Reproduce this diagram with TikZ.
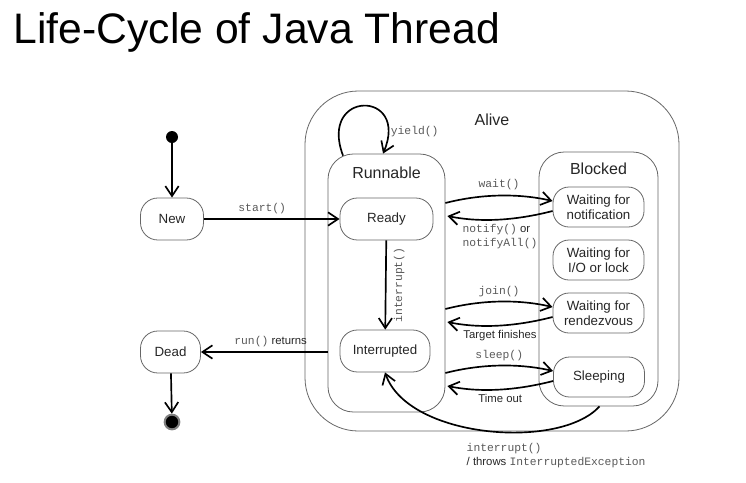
\documentclass[tikz,border=0pt]{standalone}
\usepackage{fontspec}
\setmainfont{Liberation Sans}
\setmonofont{Liberation Mono}
\usetikzlibrary{arrows.meta,calc}
\newcommand\colorStateline{black!60}
\newcommand\colorCode{black!65}
\newcommand\colorLabel{black!85}
\newcommand\mcode[1]{{\color{\colorCode}\ttfamily #1}}

\tikzset{
	state/.style={draw=\colorStateline, line width=0.6pt, rounded corners=13pt, minimum height=31.5pt, align=center, text=\colorLabel, font=\fontsize{10}{11.5}\selectfont, inner sep=2pt},
	waiting/.style={state, minimum width=68.25pt, minimum height=30pt, rounded corners=12pt},
	container/.style={draw=\colorStateline, line width=0.6pt, inner sep=0pt},
	boxlabel/.style={font=\fontsize{12}{14}\selectfont, text=\colorLabel},
	trans/.style={->, line width=1.25pt},
	note/.style={font=\fontsize{8.5}{10.5}\selectfont, text=\colorLabel},
}

\begin{document}
\begin{tikzpicture}[x=0.75pt, y=-0.75pt, >={Straight Barb[length=7.5pt,width=10pt]}]
	\useasboundingbox (0,0) rectangle (746,482);
	
	\node[anchor=base west, inner sep=0pt, font=\fontsize{32}{38}\selectfont] (title) at (13.5,43) {Life-Cycle of Java Thread};
	
	% containers
	\node[container, minimum width=280.5pt, minimum height=255pt, rounded corners=40pt] (alive) at (492,261) {};
	\node[container, minimum width=87.75pt, minimum height=193.5pt, rounded corners=19pt] (runnable) at (386.5,283) {};
	\node[container, minimum width=89.25pt, minimum height=190.5pt, rounded corners=19pt] (blocked) at (598.5,279) {};
	\node[boxlabel, below=14pt] (alivelabel) at (alive.north) {Alive};
	\node[boxlabel, below=6.4pt] (runnablelabel) at (runnable.north) {Runnable};
	\node[boxlabel, below=4.9pt] (blockedlabel) at (blocked.north) {Blocked};
	
	% states
	\node[circle, fill=black, inner sep=0pt, minimum size=9pt] (init) at (172,137) {};
	\node[state, minimum width=47.25pt] (new) at (172,219) {New};
	\node[state, minimum width=69.75pt] (ready) at (386.5,219) {Ready};
	\node[state, minimum width=67.5pt] (interrupted) at (385,351) {Interrupted};
	\node[state, minimum width=45pt] (dead) at (170.5,352) {Dead};
	\node[circle, fill=black, draw=black!50, line width=1.5pt, inner sep=0pt, minimum size=11pt] (final) at (172,422) {};
	\node[waiting] (notif) at (598.5,207) {Waiting for\\notification};
	\node[waiting] (iolock) at (598.5,260) {Waiting for\\I/O or lock};
	\node[waiting] (rendez) at (598.5,313) {Waiting for\\rendezvous};
	\node[waiting] (sleeping) at (599,377) {Sleeping};
	
	% transitions
	\draw[trans] (init) -- (new);
	\draw[trans] (new) -- node[pos=0.43, above, note] {\mcode{start()}} (ready);
	\draw[trans] (ready) -- node[midway, rotate=90, anchor=north, note, inner sep=5.5pt] {\mcode{interrupt()}} (interrupted);
	\draw[trans] (runnable.west |- dead) -- node[pos=0.45, above, note] {\mcode{run()} returns} (dead);
	\draw[trans] (dead) -- (final);
	\draw[trans] ([xshift=-32.6pt,yshift=-1.5pt]runnable.north) .. controls +(-25,-66) and +(27,-64) .. ([xshift=-2.6pt]runnable.north) node[pos=0.87, anchor=west, inner sep=1.5pt, note] {\mcode{yield()}};
	
	\foreach \t/\go/\back in {notif/{\mcode{wait()}}/{\mcode{notify()} or\\\mcode{notifyAll()}}, rendez/{\mcode{join()}}/{Target finishes}, sleeping/{\mcode{sleep()}}/{Time out}}{
		\draw[trans] ($(runnable.east |- \t)+(0,-4)$) .. controls +(35,-9) and +(-35,-8) .. ($(\t.west)+(0,-6)$) node[midway, above, note] {\go};
		\draw[trans] ($(\t.west)+(0,4)$) .. controls +(-35,9) and +(35,7) .. ($(runnable.east |- \t)+(2,9)$) node[midway, below, note, align=left] {\back};
	}
	
	\draw[trans] ($(blocked.south)+(1,0)$) .. controls +(-40,44) and +(23,66) .. (interrupted.south);
	\node[note, anchor=north west, align=left] (interruptlabel) at (462,439) {\mcode{interrupt()}\\/ throws \mcode{InterruptedException}};
\end{tikzpicture}
\end{document}
